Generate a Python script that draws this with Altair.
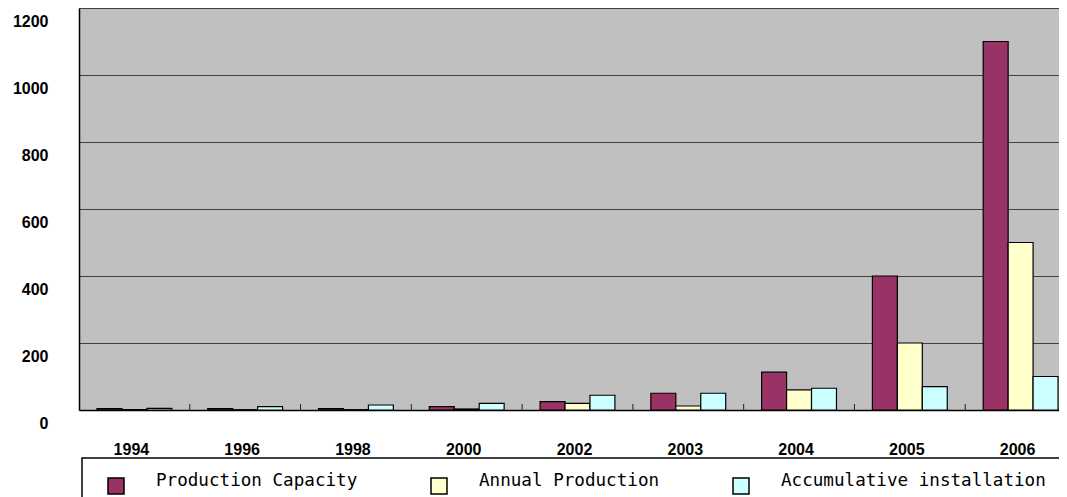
import altair as alt
import pandas as pd

years = ["1994", "1996", "1998", "2000", "2002", "2003", "2004", "2005", "2006"]
series = ["Production Capacity", "Annual Production", "Accumulative installation"]
capacity = [4, 4, 4, 10, 25, 50, 113, 400, 1100]
annual = [1, 1, 1, 3, 20, 12, 60, 200, 500]
accum = [5, 10, 15, 20, 44, 50, 65, 70, 100]
colors = ["#993366", "#FFFFCC", "#CCFFFF"]
y_ticks = [0, 200, 400, 600, 800, 1000, 1200]

rows = []
for i, yr in enumerate(years):
    for s, vals in zip(series, [capacity, annual, accum]):
        rows.append({"year": yr, "series": s, "value": vals[i]})
df = pd.DataFrame(rows)
tick_df = pd.DataFrame({"year": years[1:]})

W, H = 997, 402

xscale = alt.Scale(domain=years, paddingInner=0, paddingOuter=0)

bars = alt.Chart(df).mark_bar(stroke="black", strokeWidth=1.2).encode(
    x=alt.X(
        "year:N", scale=xscale, sort=years,
        axis=alt.Axis(
            title=None, labelAngle=0, ticks=False, tickSize=0, labelPadding=31,
            labelOffset=-3,
            labelFont="Liberation Sans", labelFontSize=16, labelFontWeight="bold",
            labelColor="black", domainColor="black", domainWidth=1.5, grid=False,
        ),
    ),
    xOffset=alt.XOffset(
        "series:N", sort=series,
        scale=alt.Scale(domain=series, paddingInner=0, paddingOuter=0.72),
    ),
    y=alt.Y(
        "value:Q", scale=alt.Scale(domain=[0, 1200], nice=False),
        axis=alt.Axis(
            title=None, values=y_ticks, format="d", ticks=False, tickSize=0,
            labelPadding=31, labelOffset=13, labelFlush=False, labelOverlap=False,
            labelFont="Liberation Sans", labelFontSize=16, labelFontWeight="bold",
            labelColor="black", domainColor="black", domainWidth=1.5,
            grid=True, gridColor="#404040", gridWidth=1,
        ),
    ),
    color=alt.Color(
        "series:N", sort=series,
        scale=alt.Scale(domain=series, range=colors),
        legend=alt.Legend(
            title=None, orient="none", legendX=22, legendY=469, direction="horizontal",
            symbolType="square", symbolSize=256, symbolStrokeColor="black",
            symbolStrokeWidth=1.5, symbolOffset=6, symbolOpacity=1,
            labelOffset=31, labelFont="DejaVu Sans Mono", labelFontSize=17.6,
            labelColor="black", labelBaseline="alphabetic", labelLimit=500,
            columnPadding=66, padding=0,
        ),
    ),
)

ticks = alt.Chart(tick_df).mark_rule(color="#202020", strokeWidth=1).encode(
    x=alt.X("year:N", bandPosition=0, sort=years, scale=xscale),
    y=alt.value(H - 6),
    y2=alt.value(H),
)

box = alt.Chart(alt.Data(values=[{"k": 1}])).mark_rect(
    fill="white", stroke="black", strokeWidth=1.5
).encode(
    x=alt.value(3), x2=alt.value(1300), y=alt.value(450), y2=alt.value(600)
)

chart = alt.layer(box, bars, ticks).properties(
    width=W, height=H,
    autosize=alt.AutoSizeParams(type="none"),
    padding={"left": 71, "top": 0, "right": -17, "bottom": 95},
).configure_view(fill="#C0C0C0", strokeWidth=0)

chart.save("out.html", embed_options={"renderer": "svg", "actions": False})
